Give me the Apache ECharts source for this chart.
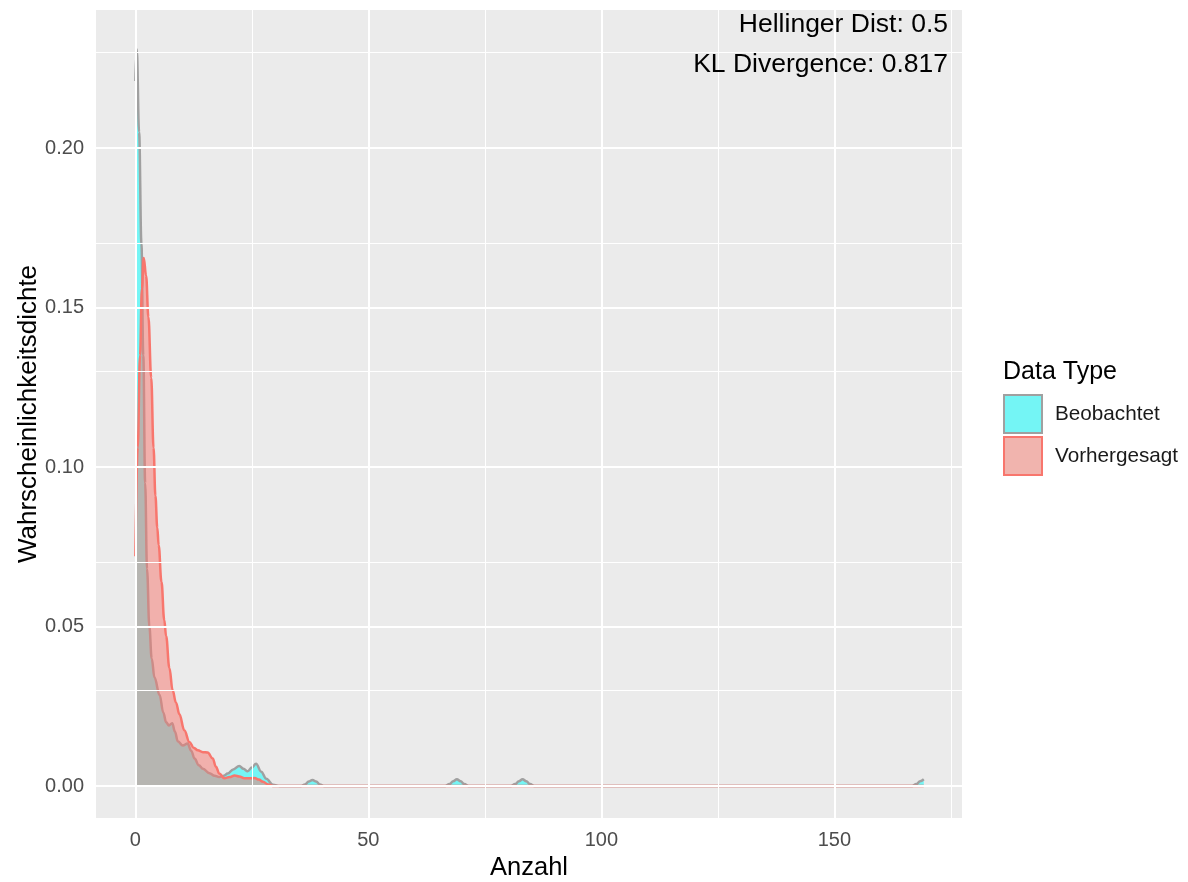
<!DOCTYPE html>
<html>
<head>
<meta charset="utf-8">
<script src="https://cdn.jsdelivr.net/npm/echarts@6/dist/echarts.min.js"></script>
<style>
  html, body { margin: 0; padding: 0; background: #ffffff; }
  #chart { width: 1188px; height: 882px; }
</style>
</head>
<body>
<div id="chart"></div>
<script>
// Kernel density estimate of observed counts (Beobachtet)
const obsX = [0, 0.3, 0.8, 1.3, 1.7, 2.1, 2.5, 3.0, 3.5, 4.1, 5.2, 6.0, 6.6, 7.2, 7.9, 8.5, 9.1, 10.2, 11.2, 12.0, 12.7, 13.6, 14.5, 15.9, 17.0, 18.0, 19.0, 19.8, 21.0, 22.3, 23.2, 24.1, 25.0, 25.9, 27.0, 28.1, 29.5, 31.0,
  35.5, 36.4, 37.2, 38.0, 38.8, 39.6, 40.5,
  66.5, 67.4, 68.2, 69.0, 69.8, 70.6, 71.5,
  80.6, 81.5, 82.3, 83.1, 83.9, 84.7, 85.6,
  166.7, 167.6, 168.4, 169.2];
const obsY = [0.221, 0.231, 0.205, 0.170, 0.135, 0.095, 0.068, 0.050, 0.040, 0.034, 0.0285, 0.023, 0.020, 0.019, 0.0197, 0.017, 0.014, 0.0127, 0.0133, 0.011, 0.0086, 0.0065, 0.0054, 0.0040, 0.0032, 0.0028, 0.0032, 0.0039, 0.0052, 0.0063, 0.0054, 0.0046, 0.0058, 0.0070, 0.0045, 0.0023, 0.0004, 0,
  0, 0.0005, 0.0014, 0.0019, 0.0014, 0.0005, 0,
  0, 0.0006, 0.0015, 0.0021, 0.0015, 0.0006, 0,
  0, 0.0006, 0.0015, 0.0021, 0.0015, 0.0006, 0,
  0, 0.0006, 0.0015, 0.0021];

// Kernel density estimate of predicted counts (Vorhergesagt)
const predX = [0, 0.5, 1.0, 1.4, 1.8, 2.3, 2.8, 3.4, 3.9, 4.3, 4.7, 5.0, 5.6, 6.2, 6.6, 7.3, 8.0, 8.7, 9.45, 10.5, 11.6, 12.5, 13.4, 14.5, 15.5, 16.6, 17.3, 18.0, 19.1, 20.2, 21.3, 22.3, 23.4, 24.5, 25.6, 26.5, 27.4, 28.5, 29.5, 169.2];
const predY = [0.072, 0.106, 0.135, 0.156, 0.1655, 0.160, 0.147, 0.128, 0.106, 0.091, 0.081, 0.0755, 0.064, 0.052, 0.047, 0.037, 0.030, 0.0262, 0.0225, 0.0175, 0.0138, 0.0120, 0.0112, 0.0106, 0.0105, 0.0086, 0.006, 0.0039, 0.0024, 0.0028, 0.0033, 0.0030, 0.0024, 0.0024, 0.0025, 0.0020, 0.0013, 0.0005, 0, 0];

// Axis ticks and grid lines
const xMajor = [0, 50, 100, 150];
const xMinor = [25, 75, 125, 175];
const yMajor = [0, 0.05, 0.10, 0.15, 0.20];
const yMinor = [0.025, 0.075, 0.125, 0.175, 0.225];

const seriesNames = ['Beobachtet', 'Vorhergesagt'];
const annotations = ['Hellinger Dist: 0.5', 'KL Divergence: 0.817'];

const FONT = '"Liberation Sans", Arial, Helvetica, sans-serif';
const pairs = (xs, ys) => xs.map((x, i) => [x, ys[i]]);

const gridLines = [
  ...xMajor.map(v => ({ xAxis: v, lineStyle: { width: 2 } })),
  ...xMinor.map(v => ({ xAxis: v, lineStyle: { width: 1 } })),
  ...yMajor.map(v => ({ yAxis: v, lineStyle: { width: 2 } })),
  ...yMinor.map(v => ({ yAxis: v, lineStyle: { width: 1 } }))
];

const chart = echarts.init(document.getElementById('chart'), null, { renderer: 'canvas' });
chart.setOption({
  animation: false,
  backgroundColor: '#ffffff',
  grid: {
    left: 96, right: 226, top: 10, bottom: 64,
    outerBoundsMode: 'none',
    containLabel: false,
    show: true, backgroundColor: '#EBEBEB', borderWidth: 0
  },
  xAxis: {
    type: 'value',
    min: -8.45, max: 177.4,
    name: 'Anzahl',
    nameLocation: 'middle',
    nameGap: 37,
    nameMoveOverlap: false,
    nameTextStyle: { fontFamily: FONT, fontSize: 25.5, color: '#000000' },
    axisLine: { show: false },
    splitLine: { show: false },
    axisTick: { show: true, customValues: xMajor, length: 6, lineStyle: { color: '#333333', width: 1.5 } },
    axisLabel: { customValues: xMajor, margin: 12, fontFamily: FONT, fontSize: 20, color: '#4D4D4D' }
  },
  yAxis: {
    type: 'value',
    min: -0.01003, max: 0.24326,
    name: 'Wahrscheinlichkeitsdichte',
    nameLocation: 'middle',
    nameGap: 54,
    nameMoveOverlap: false,
    nameTextStyle: { fontFamily: FONT, fontSize: 26, color: '#000000' },
    axisLine: { show: false },
    splitLine: { show: false },
    axisTick: { show: true, customValues: yMajor, length: 6, lineStyle: { color: '#333333', width: 1.5 } },
    axisLabel: {
      customValues: yMajor, margin: 12, fontFamily: FONT, fontSize: 20, color: '#4D4D4D',
      formatter: v => v.toFixed(2)
    }
  },
  legend: {
    orient: 'vertical',
    left: 1003, top: 394,
    padding: 0,
    itemWidth: 38, itemHeight: 38, itemGap: 2,
    selectedMode: false,
    textStyle: { fontFamily: FONT, fontSize: 20.7, color: '#1A1A1A', padding: [0, 0, 0, 8] },
    data: [
      { name: seriesNames[0], icon: 'rect', itemStyle: { color: '#74F5F5', borderColor: '#A0A0A0', borderWidth: 2 } },
      { name: seriesNames[1], icon: 'rect', itemStyle: { color: '#F1B4AE', borderColor: '#F8766D', borderWidth: 2 } }
    ]
  },
  graphic: [
    { type: 'text', z: 100, left: 1003, top: 360, style: { text: 'Data Type', fontFamily: FONT, fontSize: 25, fill: '#000000' } },
    { type: 'text', z: 100, right: 1188 - 948, top: 11, style: { text: annotations[0], fontFamily: FONT, fontSize: 26.5, fill: '#000000' } },
    { type: 'text', z: 100, right: 1188 - 948, top: 51, style: { text: annotations[1], fontFamily: FONT, fontSize: 26.5, fill: '#000000' } }
  ],
  series: [
    {
      name: 'grid',
      type: 'line',
      data: [],
      silent: true,
      z: 1,
      markLine: {
        silent: true,
        symbol: ['none', 'none'],
        label: { show: false },
        lineStyle: { color: '#FFFFFF', type: 'solid' },
        emphasis: { disabled: true },
        data: gridLines
      }
    },
    {
      name: seriesNames[0],
      type: 'line',
      data: pairs(obsX, obsY),
      z: 2,
      symbol: 'none',
      smooth: 0.4,
      smoothMonotone: 'x',
      lineStyle: { color: '#A0A0A0', width: 2.5 },
      itemStyle: { color: '#A0A0A0' },
      areaStyle: { color: 'rgba(0,255,255,0.5)', opacity: 1 }
    },
    {
      name: seriesNames[1],
      type: 'line',
      data: pairs(predX, predY),
      z: 3,
      symbol: 'none',
      smooth: 0.4,
      smoothMonotone: 'x',
      lineStyle: { color: '#F8766D', width: 2.5 },
      itemStyle: { color: '#F8766D' },
      areaStyle: { color: 'rgba(248,118,109,0.5)', opacity: 1 }
    }
  ]
});
</script>
</body>
</html>
